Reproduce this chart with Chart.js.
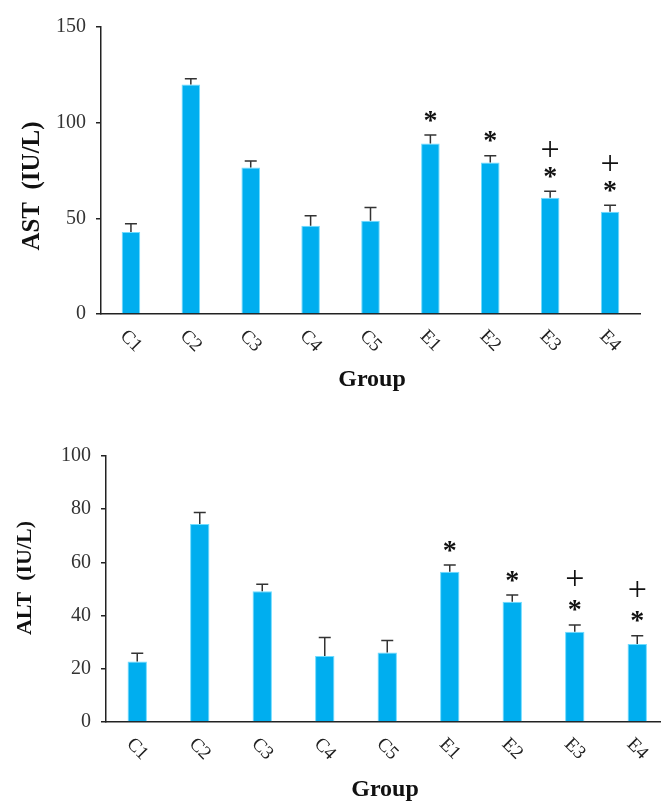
<!DOCTYPE html>
<html>
<head>
<meta charset="utf-8">
<script src="https://cdn.jsdelivr.net/npm/chart.js@4/dist/chart.umd.min.js"></script>
<style>
	html, body { margin: 0; padding: 0; background: #fff; overflow: hidden; width: 661px; height: 801px; }
	canvas { position: absolute; left: 0; }
	#canvas-ast { top: 0; }
	#canvas-alt { top: 400px; }
</style>
</head>
<body>
<canvas id="canvas-ast" width="661" height="400"></canvas>
<canvas id="canvas-alt" width="670" height="401"></canvas>
<script>
var groups = ['C1', 'C2', 'C3', 'C4', 'C5', 'E1', 'E2', 'E3', 'E4'];

var astMean = [42.8, 120, 76.6, 46.1, 48.7, 89.1, 79.2, 60.7, 53.4];
var astError = [4.4, 3, 3.3, 5.2, 7, 4.4, 3.5, 3.5, 3.4];
var astTicks = [0, 50, 100, 150];

var altMean = [22.7, 74.4, 49.2, 24.8, 26.1, 56.5, 45.2, 33.9, 29.3];
var altError = [3.1, 4.4, 2.6, 7, 4.5, 2.5, 2.5, 2.6, 3.1];
var altTicks = [0, 20, 40, 60, 80, 100];

// significance marks: * vs control, + vs E1
var starMarks = [false, false, false, false, false, true, true, true, true];
var plusMarks = [false, false, false, false, false, false, false, true, true];

var barColor = '#00aeef';
var barEdge = '#6fdcff';
var ink = '#222';
var serif = '"Liberation Serif", "Times New Roman", serif';

/**
 * Draws error bars, significance marks, rotated group labels and axis titles.
 */
function decorations(opts)
{
	return {
		id: 'decorations',
		afterDatasetsDraw: function (chart) {
			var ctx = chart.ctx;
			var x = chart.scales.x;
			var y = chart.scales.y;
			var means = opts.mean;
			var errs = opts.error;

			ctx.save();

			// Error bars, upper half only.
			ctx.strokeStyle = '#333';
			ctx.lineWidth = 1.5;
			means.forEach(function (m, i) {
				var cx = x.getPixelForValue(i);
				var top = y.getPixelForValue(m);
				var cap = y.getPixelForValue(m + errs[i]);
				ctx.beginPath();
				ctx.moveTo(cx, top);
				ctx.lineTo(cx, cap);
				ctx.moveTo(cx - 6, cap);
				ctx.lineTo(cx + 6, cap);
				ctx.stroke();
			});

			// Significance marks.
			ctx.fillStyle = '#111';
			ctx.textAlign = 'center';
			ctx.textBaseline = 'alphabetic';
			means.forEach(function (m, i) {
				var cx = x.getPixelForValue(i);
				var cap = y.getPixelForValue(m + errs[i]);
				var starY = cap - 19;
				var mt;
				if (starMarks[i]) {
					ctx.font = 'bold 28px ' + serif;
					mt = ctx.measureText('*');
					ctx.fillText('*', cx, starY + (mt.actualBoundingBoxAscent - mt.actualBoundingBoxDescent) / 2);
				}
				if (plusMarks[i]) {
					ctx.font = '34px ' + serif;
					mt = ctx.measureText('+');
					ctx.fillText('+', cx, starY - opts.plusGap + (mt.actualBoundingBoxAscent - mt.actualBoundingBoxDescent) / 2);
				}
			});

			// Group labels, turned clockwise.
			ctx.fillStyle = ink;
			ctx.font = '19px ' + serif;
			ctx.textBaseline = 'middle';
			groups.forEach(function (g, i) {
				ctx.save();
				ctx.translate(x.getPixelForValue(i), y.bottom + 27);
				ctx.rotate(Math.PI / 4);
				ctx.fillText(g, 0, 0);
				ctx.restore();
			});

			// Axis titles.
			ctx.fillStyle = '#111';
			ctx.font = 'bold 24px ' + serif;
			ctx.fillText('Group', opts.xTitle[0], opts.xTitle[1]);
			ctx.save();
			ctx.translate(opts.yTitle[0], opts.yTitle[1]);
			ctx.rotate(-Math.PI / 2);
			ctx.font = 'bold ' + opts.yTitleSize + 'px ' + serif;
			ctx.fillText(opts.yLabel, 0, 0);
			ctx.restore();

			ctx.restore();
		}
	};
}

function drawChart(id, means, ticks, layout, xHeight, yWidth, extra)
{
	var ctx = document.getElementById(id).getContext('2d');
	return new Chart(ctx, {
		type: 'bar',
		data: {
			labels: groups,
			datasets: [{
				data: means,
				backgroundColor: barColor,
				borderColor: barEdge,
				borderWidth: 1,
				categoryPercentage: 1,
				barPercentage: 0.31
			}]
		},
		options: {
			responsive: false,
			animation: false,
			devicePixelRatio: 1,
			layout: { padding: layout },
			plugins: {
				legend: { display: false },
				tooltip: { enabled: false }
			},
			scales: {
				x: {
					grid: { display: false },
					border: { color: '#222', width: 1.5 },
					ticks: { display: false },
					afterFit: function (scale) { scale.height = xHeight; }
				},
				y: {
					min: ticks[0],
					max: ticks[ticks.length - 1],
					afterBuildTicks: function (scale) {
						scale.ticks = ticks.map(function (v) { return { value: v }; });
					},
					grid: {
						drawOnChartArea: false,
						drawTicks: true,
						tickLength: 5,
						color: '#222',
						lineWidth: 1.5
					},
					border: { color: '#222', width: 1.5 },
					ticks: {
						color: '#333',
						padding: 10,
						font: { family: serif, size: 20 }
					},
					afterFit: function (scale) { scale.width = yWidth; }
				}
			}
		},
		plugins: [decorations(extra)]
	});
}

drawChart('canvas-ast', astMean, astTicks,
	{ top: 27, right: 21, bottom: 0, left: 0 }, 86, 101,
	{ mean: astMean, error: astError, plusGap: 23, yLabel: 'AST  (IU/L)', yTitleSize: 25, yTitle: [33, 186], xTitle: [372, 380] });

drawChart('canvas-alt', altMean, altTicks,
	{ top: 56, right: 1.5, bottom: 0, left: 0 }, 79, 106,
	{ mean: altMean, error: altError, plusGap: 28, yLabel: 'ALT  (IU/L)', yTitleSize: 22, yTitle: [25, 178], xTitle: [385, 390] });
</script>
</body>
</html>
